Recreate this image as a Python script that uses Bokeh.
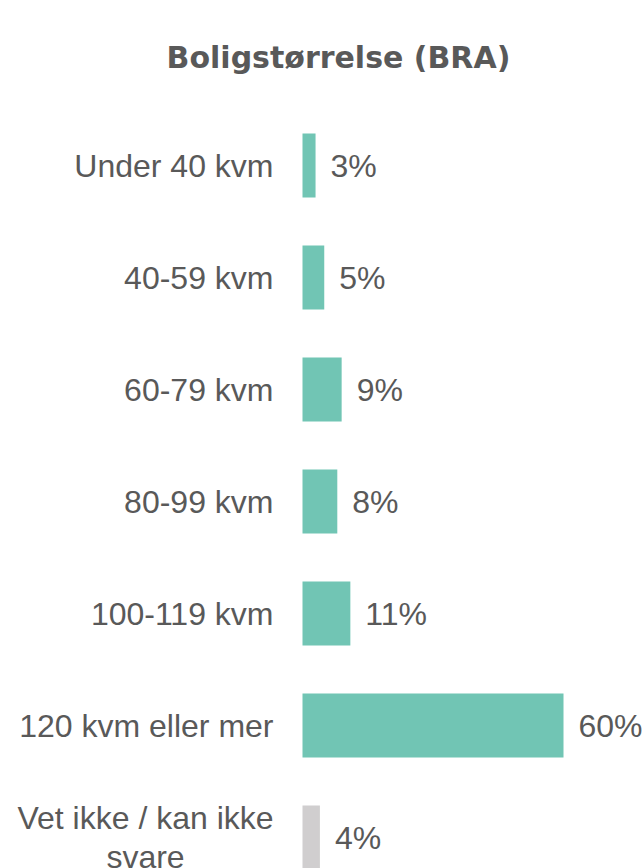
from bokeh.plotting import figure
from bokeh.models import ColumnDataSource, Range1d, Label
from bokeh.core.properties import value
from bokeh.embed import file_html
from bokeh.resources import INLINE

# Survey answers: dwelling size (BRA), share of respondents in percent
categories = ["Under 40 kvm", "40-59 kvm", "60-79 kvm", "80-99 kvm",
              "100-119 kvm", "120 kvm eller mer", "Vet ikke / kan ikke\nsvare"]
shares = [3, 5, 9, 8, 11, 60, 4]
colors = ["#71C5B4"] * 6 + ["#D0CECF"]

TEXT_GREY = "#595959"
LABEL_FONT = value("Liberation Sans")
LABEL_SIZE = "32px"

W, H = 644, 868
px_per_pct = 4.35
bar_left_px = 302
row_step_px = 112
first_row_px = 165

p = figure(width=W, height=H, output_backend="svg", toolbar_location=None,
           min_border=0, outline_line_color=None,
           x_range=Range1d(-bar_left_px / px_per_pct, (W - bar_left_px) / px_per_pct),
           y_range=Range1d((H - first_row_px) / row_step_px, -first_row_px / row_step_px))
p.axis.visible = False
p.grid.visible = False
p.background_fill_color = "white"
p.border_fill_color = "white"

idx = list(range(len(categories)))
src = ColumnDataSource(dict(y=idx, v=shares, c=colors,
                            txt=[f"{s}%" for s in shares]))

p.hbar(y="y", left=0, right="v", height=0.57, fill_color="c",
       line_color=None, source=src)

# value labels next to each bar
p.text(x="v", y="y", text="txt", source=src, x_offset=15,
       text_align="left", text_baseline="middle", text_font=LABEL_FONT,
       text_font_size=LABEL_SIZE, text_color=TEXT_GREY)

# category labels, right aligned against the bars
cat_src = ColumnDataSource(dict(y=idx[:-1], t=categories[:-1]))
p.text(x=0, y="y", text="t", source=cat_src, x_offset=-29,
       text_align="right", text_baseline="middle", text_font=LABEL_FONT,
       text_font_size=LABEL_SIZE, text_color=TEXT_GREY)

# the last, wrapped category label is centred
last_src = ColumnDataSource(dict(y=[idx[-1]], t=[categories[-1]]))
p.text(x=0, y="y", text="t", source=last_src, x_offset=-157,
       text_align="center", text_baseline="middle", text_font=LABEL_FONT,
       text_font_size=LABEL_SIZE, text_color=TEXT_GREY, text_line_height=1.1)

title = Label(x=338, y=H - 57, x_units="screen", y_units="screen",
              text="Boligstørrelse (BRA)", text_align="center",
              text_baseline="middle", text_font="DejaVu Sans", text_font_style="bold",
              text_font_size="30px", text_color=TEXT_GREY)
p.add_layout(title)

open("out.html", "w").write(file_html(p, INLINE))
